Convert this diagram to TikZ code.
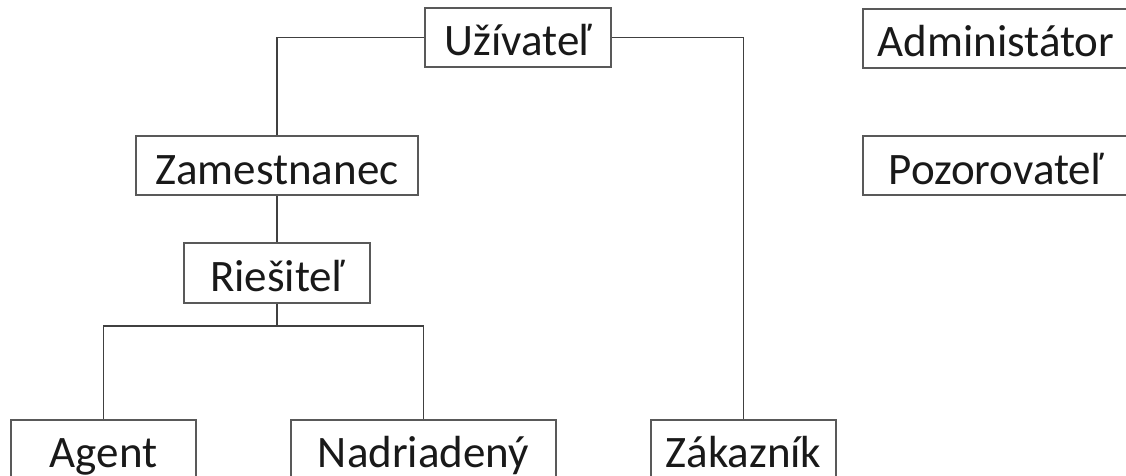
\documentclass[tikz,border=0pt]{standalone}
\usepackage{fontspec}
\setmainfont{Carlito}
\begin{document}
\begin{tikzpicture}[x=1pt,y=1pt,
  rolebox/.style={draw=black!65, line width=1pt, rectangle, inner sep=0pt,
    minimum height=29.5pt, text height=18.4pt, text depth=0pt,
    font=\fontsize{22.5pt}{25pt}\selectfont, text=black!90},
  conn/.style={draw=black!75, line width=0.9pt}]
\useasboundingbox (0,0) rectangle (563,-238);
\fill[white] (0,0) rectangle (563,-238);
\clip (0,0) rectangle (563,-238);
\node[rolebox, minimum width=93pt] (U) at (259,-18.75) {Užívateľ};
\node[rolebox, minimum width=133pt] (Adm) at (498,-19.25) {Administátor};
\node[rolebox, minimum width=133pt] (Poz) at (498,-83) {Pozorovateľ};
\node[rolebox, minimum width=141pt] (Z) at (138.5,-83) {Zamestnanec};
\node[rolebox, minimum width=93pt] (R) at (138.5,-136.5) {Riešiteľ};
\node[rolebox, minimum width=92.5pt] (A) at (51.75,-224.75) {Agent};
\node[rolebox, minimum width=132.5pt] (N) at (211.75,-224.75) {Nadriadený};
\node[rolebox, minimum width=92.5pt] (K) at (371.75,-224.75) {Zákazník};
\coordinate (j) at (138.5,-163);
\draw[conn] (U.west) -| (Z.north);
\draw[conn] (U.east) -| (K.north);
\draw[conn] (Z.south) -- (R.north);
\draw[conn] (R.south) -- (j);
\draw[conn] (j) -| (A.north);
\draw[conn] (j) -| (N.north);
\end{tikzpicture}
\end{document}
